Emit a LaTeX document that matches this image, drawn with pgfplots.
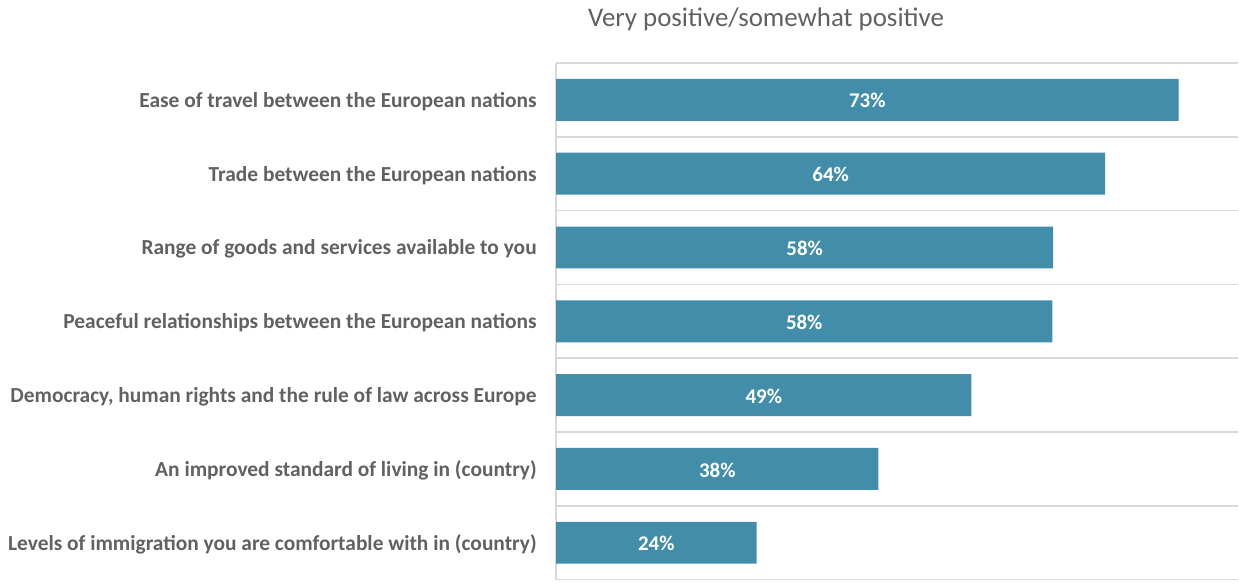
\documentclass[border=0pt]{standalone}
\usepackage{pgfplots}
\pgfplotsset{compat=1.18}
\usepackage{pgfplotstable}
\usepackage{fontspec}
\setmainfont{Carlito}
\definecolor{barblue}{HTML}{428EAA}
\definecolor{txtgray}{HTML}{616161}
\definecolor{gridgray}{HTML}{D9D9D9}

\pgfplotstableread{
y v lab
0 73.0 73
1 64.4 64
2 58.3 58
3 58.2 58
4 48.7 49
5 37.8 38
6 23.5 24
}\data

\begin{document}
\begin{tikzpicture}
\begin{axis}[name=ax, scale only axis, width=682.5bp, height=517bp,
  xmin=0, xmax=80, ymin=-0.5, ymax=6.5, y dir=reverse,
  axis x line=none, axis y line*=left,
  axis line style={gridgray, line width=1.5bp, -},
  ytick={0,...,6},
  yticklabels={Ease of travel between the European nations,
    Trade between the European nations,
    Range of goods and services available to you,
    Peaceful relationships between the European nations,
    {Democracy, human rights and the rule of law across Europe},
    An improved standard of living in (country),
    Levels of immigration you are comfortable with in (country)},
  yticklabel style={font=\fontsize{21.5}{24}\selectfont\bfseries, text=txtgray, xshift=-16bp, yshift=-1.5bp},
  major tick length=0, minor tick length=0,
  minor ytick={-0.5,0.5,...,6.5},
  yminorgrids=true, minor grid style={gridgray, line width=1.5bp},
  clip=false]
\addplot[xbar, bar width=42bp, bar shift=0pt, fill=barblue, draw=none] table[x=v, y=y] {\data};
\addplot[only marks, mark=none, point meta=explicit symbolic,
  nodes near coords={\pgfplotspointmeta\%},
  nodes near coords style={anchor=center, text=white, yshift=-1bp, font=\fontsize{21}{24}\selectfont\bfseries}]
  table[x expr=\thisrow{v}/2, y=y, meta=lab] {\data};
\end{axis}
\node[anchor=base, text=txtgray, font=\fontsize{27}{30}\selectfont] at ([xshift=210bp, yshift=36bp]ax.north west) {Very positive/somewhat positive};
\path ([xshift=-556.5bp, yshift=-5bp]ax.south west);
\path ([yshift=63bp]ax.north east);
\end{tikzpicture}
\end{document}
